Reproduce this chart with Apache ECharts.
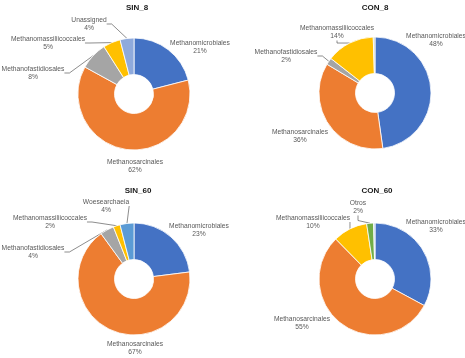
<!DOCTYPE html>
<html><head><meta charset="utf-8">
<script src="https://cdn.jsdelivr.net/npm/echarts@6/dist/echarts.min.js"></script>
<style>html,body{margin:0;padding:0;background:#fff}#c{width:465px;height:358px}</style>
</head><body><div id="c"></div>
<script>
var titles = ['SIN_8', 'CON_8', 'SIN_60', 'CON_60'];
var sin8Names = ['Methanomicrobiales', 'Methanosarcinales', 'Methanofastidiosales', 'Methanomassiliicoccales', 'Unassigned'];
var sin8Values = [21, 62, 8, 5, 4];
var con8Names = ['Methanomicrobiales', 'Methanosarcinales', 'Methanofastidiosales', 'Methanomassiliicoccales', 'Otros'];
var con8Values = [48, 36, 2, 14, 0.5];
var sin60Names = ['Methanomicrobiales', 'Methanosarcinales', 'Methanofastidiosales', 'Methanomassiliicoccales', 'Woesearchaeia'];
var sin60Values = [23, 67, 4, 2, 4];
var con60Names = ['Methanomicrobiales', 'Methanosarcinales', 'Methanomassiliicoccales', 'Otros', 'Unassigned'];
var con60Values = [33, 55, 10, 2, 0.4];

var colorMap = {
  'Methanomicrobiales': '#4472C4', 'Methanosarcinales': '#ED7D31', 'Methanofastidiosales': '#A5A5A5',
  'Methanomassiliicoccales': '#FFC000', 'Unassigned': '#8FAADC', 'Woesearchaeia': '#5B9BD5', 'Otros': '#70AD47'
};
var tinyColor = ['#C5CFC0', '#A9C4E4'];

// label placements (style, not data)
var labelPos = [
  {0: [200, 47], 1: [135, 166], 2: [33, 73], 3: [48, 43], 4: [89, 24]},
  {0: [436, 40], 1: [300, 136], 2: [286, 56], 3: [337, 32]},
  {0: [199, 230], 1: [135, 348], 2: [33, 252], 3: [50, 222], 4: [106, 206]},
  {0: [436, 226], 1: [302, 323], 2: [313, 222], 3: [358, 207]}
];
var centers = [[134, 94], [375, 93], [134, 279], [375, 279]];
var titlePos = [[137, 8], [375, 8], [138, 191], [377, 191]];

function mkData(names, values, si) {
  return names.map(function (n, i) {
    var tiny = !labelPos[si][i];
    var c = colorMap[n];
    if (tiny) c = tinyColor[si === 1 ? 0 : 1];
    var big = (n === 'Methanomicrobiales' || n === 'Methanosarcinales');
    return {
      name: n, value: values[i],
      itemStyle: {color: c},
      label: {show: !tiny},
      labelLine: {show: !tiny && !big}
    };
  });
}
var allNames = [sin8Names, con8Names, sin60Names, con60Names];
var allValues = [sin8Values, con8Values, sin60Values, con60Values];

var chart = echarts.init(document.getElementById('c'), null, {renderer: 'canvas'});
var series = [];
for (var s = 0; s < 4; s++) {
  (function (si) {
    series.push({
      type: 'pie',
      center: centers[si],
      radius: [19.5, 56],
      startAngle: 90,
      clockwise: true,
      animation: false,
      avoidLabelOverlap: false,
      itemStyle: {borderColor: '#fff', borderWidth: 0.8},
      label: {
        show: true, position: 'outside',
        formatter: function (p) { return p.name + '\n' + Math.round(p.value) + '%'; },
        fontFamily: 'Liberation Sans, Arial, sans-serif', fontSize: 6.7, lineHeight: 8.5,
        color: '#595959', align: 'center'
      },
      labelLine: {show: true, length: 5, length2: 5, lineStyle: {color: '#404040', width: 0.6}},
      labelLayout: function (p) {
        var pos = labelPos[si][p.dataIndex];
        if (!pos) return {};
        return {x: pos[0], y: pos[1], align: 'center', verticalAlign: 'middle'};
      },
      emphasis: {disabled: true},
      data: mkData(allNames[si], allValues[si], si)
    });
  })(s);
}
chart.setOption({
  backgroundColor: '#fff',
  title: titles.map(function (t, i) {
    return {text: t, left: titlePos[i][0], top: titlePos[i][1] - 4.5, padding: 0, textAlign: 'center',
      textStyle: {fontFamily: 'Liberation Sans, Arial, sans-serif', fontSize: 8, lineHeight: 9, fontWeight: 'bold', color: '#1a1a1a'}};
  }),
  series: series
});
</script></body></html>
